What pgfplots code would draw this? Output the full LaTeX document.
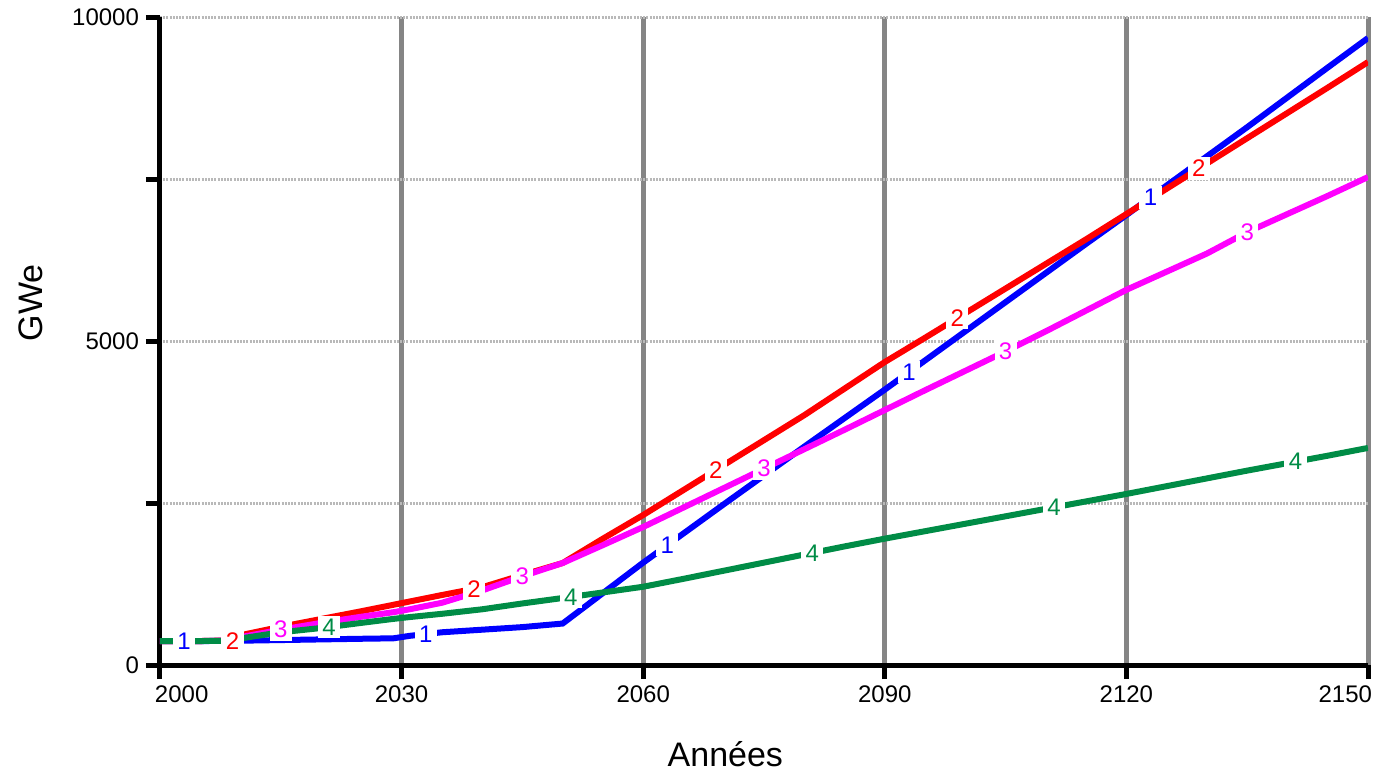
\documentclass[border=0pt]{standalone}
\usepackage{fontspec}
\setmainfont{Liberation Sans}
\usepackage{pgfplots}
\pgfplotsset{compat=1.18}
\usepackage{pgfplotstable}
\definecolor{cblue}{RGB}{0,0,255}
\definecolor{cred}{RGB}{255,0,0}
\definecolor{cmag}{RGB}{255,0,255}
\definecolor{cgreen}{RGB}{0,140,70}
\tikzset{lbl/.style={fill=white, inner xsep=2.2pt, inner ysep=1.5pt, font=\fontsize{12}{14}\selectfont}}

\pgfplotstableread{
year b r m g
2000 370 370 370 370
2005 370 370 370 370
2009 372 380 378 375
2010 375 460 430 410
2015 385 590 545 505
2020 395 710 650 571
2025 405 830 745 650
2029 412 930 815 712
2031 450 980 860 740
2035 505 1080 960 790
2040 545 1200 1150 860
2045 585 1390 1370 950
2050 640 1574 1574 1034
2055 1110 1950 1850 1120
2060 1580 2315 2130 1208
2065 2030 2700 2430 1330
2070 2480 3085 2730 1455
2075 2925 3470 3030 1580
2080 3370 3855 3330 1705
2085 3810 4265 3630 1830
2090 4250 4676 3935 1950
2095 4700 5050 4240 2065
2100 5150 5430 4540 2180
2105 5600 5810 4840 2295
2110 6050 6190 5150 2410
2115 6500 6570 5470 2525
2120 6944 6960 5790 2640
2125 7400 7350 6070 2760
2130 7850 7740 6350 2880
2135 8300 8130 6680 3000
2140 8760 8520 6960 3115
2145 9220 8910 7240 3230
2150 9676 9305 7530 3350
}\data

\pgfplotstableread{
year b r m g
2003 370 375 545 590
2033 478 1176 1370 1051
2063 1850 3008 3030 1730
2093 4520 5354 4840 2433
2123 7218 7662 6680 3138
}\labs

\begin{document}
\begin{tikzpicture}
\begin{axis}[
 scale only axis, width=604pt, height=324pt,
 xmin=2000, xmax=2150, ymin=0, ymax=10000,
 axis x line=bottom, axis y line=left,
 axis line style={-, line width=2.5pt, black},
 xtick={2000,2030,2060,2090,2120,2150},
 xticklabels={\makebox[0pt][l]{\hspace*{-2.5pt}2000},2030,2060,2090,2120,\makebox[0pt][r]{2150\hspace*{-2pt}}},
 ytick={0,2500,5000,7500,10000}, yticklabels={0,,5000,,\raisebox{-1.5pt}{10000}},
 tick align=outside, major tick length=7pt,
 major tick style={line width=2.5pt, black},
 grid=major,
 major x grid style={line width=2.5pt, color=black!48},
 major y grid style={line width=1.5pt, color=gray!55, dash pattern=on 1pt off 0.6pt},
 tick label style={font=\fontsize{12}{14}\selectfont},
 xlabel={Années}, ylabel={GWe},
 label style={font=\fontsize{17}{20}\selectfont},
 xlabel style={at={(axis description cs:0.468,-0.1373)}, anchor=center},
 ylabel style={at={(axis description cs:-0.1068,0.559)}, anchor=center},
]
\addplot[cblue, line width=3pt] table[x=year,y=b]{\data};
\addplot[cred, line width=3pt] table[x=year,y=r]{\data};
\addplot[cmag, line width=3pt] table[x=year,y=m]{\data};
\addplot[cgreen, line width=3pt] table[x=year,y=g]{\data};

\addplot[draw=none, mark=none, forget plot, nodes near coords={1}, nodes near coords align={center},
  every node near coord/.append style={lbl, text=cblue}] table[x=year,y=b]{\labs};
\addplot[draw=none, mark=none, forget plot, nodes near coords={2}, nodes near coords align={center},
  every node near coord/.append style={lbl, text=cred}] table[x expr=\thisrow{year}+6,y=r]{\labs};
\addplot[draw=none, mark=none, forget plot, nodes near coords={3}, nodes near coords align={center},
  every node near coord/.append style={lbl, text=cmag}] table[x expr=\thisrow{year}+12,y=m]{\labs};
\addplot[draw=none, mark=none, forget plot, nodes near coords={4}, nodes near coords align={center},
  every node near coord/.append style={lbl, text=cgreen}] table[x expr=\thisrow{year}+18,y=g]{\labs};
\end{axis}
\pgfresetboundingbox
\path ([shift={(-80pt,-54pt)}]current axis.south west) rectangle ([shift={(6pt,8.5pt)}]current axis.north east);
\end{tikzpicture}
\end{document}
